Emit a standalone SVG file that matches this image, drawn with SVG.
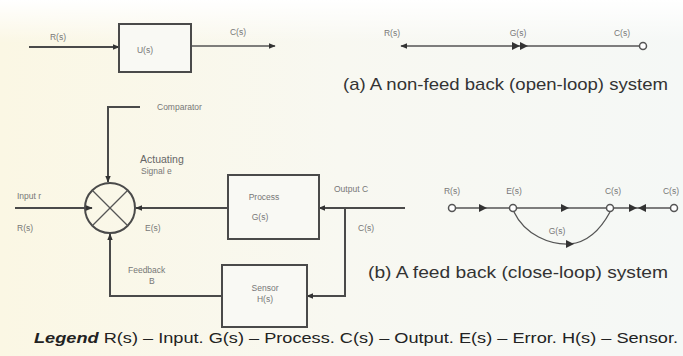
<svg xmlns="http://www.w3.org/2000/svg" width="683" height="356" viewBox="0 0 683 356">
<defs>
<linearGradient id="bg" x1="0" y1="0" x2="1" y2="0">
<stop offset="0" stop-color="#fbf7e4"/>
<stop offset="0.5" stop-color="#f8f8f1"/>
<stop offset="1" stop-color="#f5f8f6"/>
</linearGradient>
<linearGradient id="bgv" x1="0" y1="0" x2="0" y2="1">
<stop offset="0" stop-color="#ffffff" stop-opacity="1"/>
<stop offset="0.12" stop-color="#ffffff" stop-opacity="0"/>
</linearGradient>
<marker id="ah" viewBox="0 0 10 10" refX="9" refY="5" markerWidth="7" markerHeight="7" orient="auto" markerUnits="userSpaceOnUse">
<path d="M0,1 L10,5 L0,9 Z" fill="#333"/>
</marker>
<style>
.ln{fill:none;stroke:#4a4a4a;stroke-width:2}
.tl{fill:none;stroke:#555;stroke-width:1.3}
.box{fill:#f9f9f4;stroke:#4a4a4a;stroke-width:2}
.nd{fill:#fff;stroke:#555;stroke-width:1.5}
.lb{font-family:"Liberation Sans",Arial,sans-serif;font-size:8.5px;fill:#777}
.lm{font-family:"Liberation Sans",Arial,sans-serif;font-size:10.5px;fill:#666}
.cap{font-family:"Liberation Sans",Arial,sans-serif;font-size:17px;fill:#333}
.leg{font-family:"Liberation Sans",Arial,sans-serif;font-size:15px;fill:#222}
.tri{fill:#333}
</style>
</defs>
<rect width="683" height="356" fill="url(#bg)"/>
<rect width="683" height="356" fill="url(#bgv)"/>

<g id="connectors">
<line class="ln" x1="29" y1="47" x2="119" y2="47" marker-end="url(#ah)"/>
<line class="tl" x1="191" y1="46" x2="275" y2="46" marker-end="url(#ah)"/>
<line class="tl" x1="640" y1="46" x2="401" y2="46" marker-end="url(#ah)"/>
<polygon class="tri" points="512,42 520,46 512,50"/>
<polygon class="tri" points="520,42 528,46 520,50"/>
<line class="ln" x1="15" y1="208" x2="92" y2="208" marker-end="url(#ah)"/>
<path class="ln" d="M140,107 H108 V182" marker-end="url(#ah)"/>
<line class="ln" x1="228" y1="208" x2="136" y2="208" marker-end="url(#ah)"/>
<line class="ln" x1="405" y1="208" x2="319" y2="208" marker-end="url(#ah)"/>
<path class="ln" d="M345,208 V296 H307" marker-end="url(#ah)"/>
<path class="ln" d="M222,296 H110 V234" marker-end="url(#ah)"/>
<line class="tl" x1="455" y1="208" x2="510" y2="208"/>
<polygon class="tri" points="479,204 487,208 479,212"/>
<line class="tl" x1="516" y1="208" x2="607" y2="208"/>
<polygon class="tri" points="561,204 569,208 561,212"/>
<line class="tl" x1="613" y1="208" x2="671" y2="208"/>
<polygon class="tri" points="629,204 637,208 629,212"/>
<polygon class="tri" points="646,204 638,208 646,212"/>
<path class="tl" d="M514,212 C525,235 550,245 570,244 C590,242 603,225 610,212"/>
<polygon class="tri" points="566,240 574,244 566,248"/>
</g>

<g id="node-open-plant">
<rect class="box" x="119" y="24" width="72" height="48"/>
<text class="lb" x="145" y="53" text-anchor="middle">U(s)</text>
</g>
<g id="labels-open">
<text class="lb" x="58" y="40" text-anchor="middle">R(s)</text>
<text class="lb" x="238" y="35" text-anchor="middle">C(s)</text>
<text class="lb" x="392" y="36" text-anchor="middle">R(s)</text>
<text class="lb" x="518" y="36" text-anchor="middle">G(s)</text>
<text class="lb" x="622" y="36" text-anchor="middle">C(s)</text>
<text class="cap" x="343" y="90" textLength="325" lengthAdjust="spacingAndGlyphs">(a) A non-feed back (open-loop) system</text>
</g>
<g id="node-sf-c-open"><circle class="nd" cx="643" cy="46" r="3.5"/></g>

<g id="node-comparator">
<circle cx="110" cy="208" r="25" fill="none" stroke="#4a4a4a" stroke-width="2"/>
<line class="tl" x1="92" y1="190" x2="128" y2="226"/>
<line class="tl" x1="128" y1="190" x2="92" y2="226"/>
</g>
<g id="node-process">
<rect class="box" x="228" y="175" width="91" height="64"/>
<text class="lb" x="264" y="200" text-anchor="middle">Process</text>
<text class="lb" x="260" y="220" text-anchor="middle">G(s)</text>
</g>
<g id="node-sensor">
<rect class="box" x="222" y="265" width="85" height="62"/>
<text class="lb" x="265" y="291" text-anchor="middle">Sensor</text>
<text class="lb" x="265" y="302" text-anchor="middle">H(s)</text>
</g>
<g id="labels-closed">
<text class="lb" x="157" y="110">Comparator</text>
<text class="lm" x="140" y="163">Actuating</text>
<text class="lb" x="141" y="174">Signal  e</text>
<text class="lb" x="17" y="199">Input  r</text>
<text class="lb" x="17" y="231">R(s)</text>
<text class="lb" x="145" y="231">E(s)</text>
<text class="lb" x="334" y="192">Output C</text>
<text class="lb" x="358" y="231">C(s)</text>
<text class="lb" x="128" y="273">Feedback</text>
<text class="lb" x="149" y="284">B</text>
</g>

<g id="node-sf-r"><circle class="nd" cx="452" cy="208" r="3.5"/></g>
<g id="node-sf-e"><circle class="nd" cx="513" cy="208" r="3.5"/></g>
<g id="node-sf-c"><circle class="nd" cx="610" cy="208" r="3.5"/></g>
<g id="node-sf-c2"><circle class="nd" cx="674" cy="208" r="3.5"/></g>
<g id="labels-sf">
<text class="lb" x="452" y="194" text-anchor="middle">R(s)</text>
<text class="lb" x="514" y="194" text-anchor="middle">E(s)</text>
<text class="lb" x="613" y="194" text-anchor="middle">C(s)</text>
<text class="lb" x="671" y="194" text-anchor="middle">C(s)</text>
<text class="lb" x="557" y="234" text-anchor="middle">G(s)</text>
<text class="cap" x="368" y="278" textLength="300" lengthAdjust="spacingAndGlyphs">(b) A feed back (close-loop) system</text>
</g>

<g id="legend">
<text class="leg" x="34" y="343" textLength="644" lengthAdjust="spacingAndGlyphs"><tspan font-weight="bold" font-style="italic">Legend</tspan>  R(s) – Input. G(s) – Process. C(s) – Output. E(s) – Error. H(s) – Sensor.</text>
</g>
</svg>
